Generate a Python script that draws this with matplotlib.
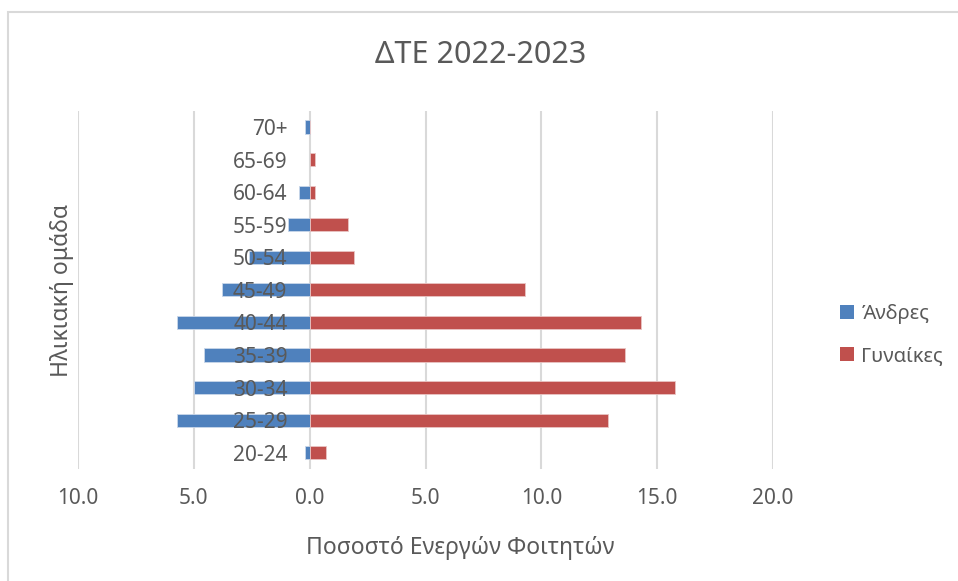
import matplotlib
matplotlib.use("Agg")
import matplotlib.pyplot as plt
from matplotlib.patches import Patch, Rectangle
from matplotlib.ticker import FuncFormatter, MultipleLocator

plt.rcParams['font.family'] = ['Noto Sans', 'DejaVu Sans']

# Data
age_groups = ["20-24", "25-29", "30-34", "35-39", "40-44", "45-49",
              "50-54", "55-59", "60-64", "65-69", "70+"]
men = [0.22, 5.72, 4.98, 4.55, 5.72, 3.8, 2.62, 0.93, 0.47, 0.0, 0.22]
women = [0.69, 12.88, 15.76, 13.6, 14.32, 9.31, 1.92, 1.67, 0.22, 0.22, 0.0]
series_names = ["Άνδρες", "Γυναίκες"]
title = "ΔΤΕ 2022-2023"
xlabel = "Ποσοστό Ενεργών Φοιτητών"
ylabel = "Ηλικιακή ομάδα"

blue = "#4F81BD"
red = "#C0504D"
text_col = "#595959"
grid_col = "#D9D9D9"

W, H = 958, 581
fig = plt.figure(figsize=(W / 100, H / 100), dpi=100)
ax = fig.add_axes([78 / W, 1 - 469 / H, (773 - 78) / W, (469 - 110.7) / H])

ypos = list(range(len(age_groups)))
ax.barh(ypos, [-m for m in men], height=0.4, color=blue,
        edgecolor="#C9D7EA", linewidth=0.6, zorder=1)
ax.barh(ypos, women, height=0.4, color=red,
        edgecolor="#E9C4C3", linewidth=0.6, zorder=1)

ax.set_xlim(-10, 20)
ax.set_ylim(-0.5, len(age_groups) - 0.5)
ax.xaxis.set_major_locator(MultipleLocator(5))
ax.xaxis.set_major_formatter(FuncFormatter(lambda v, p: f"{abs(v):.1f}"))
ax.set_axisbelow(True)
ax.grid(axis="x", color=grid_col, linewidth=1.5)
ax.grid(axis="y", visible=False)

ax.set_yticks(ypos)
ax.set_yticklabels(age_groups)
ax.spines['left'].set_position(('data', 0))
for s in ax.spines.values():
    s.set_visible(False)
ax.yaxis.set_zorder(3)
ax.tick_params(axis="y", length=0, pad=16, labelsize=15, labelcolor=text_col)
ax.tick_params(axis="x", length=0, pad=14, labelsize=15, labelcolor=text_col)

fig.text(460 / W, 1 - 548 / H, xlabel, fontsize=16.5, color=text_col,
         ha="center", va="center")
fig.text(62 / W, 1 - 290 / H, ylabel, rotation=90, fontsize=16.5,
         color=text_col, ha="center", va="center")
fig.text(481 / W, 1 - 55 / H, title, fontsize=22, color=text_col,
         ha="center", va="center")

handles = [Patch(facecolor=blue, edgecolor="none"),
           Patch(facecolor=red, edgecolor="none")]
fig.legend(handles, series_names, loc="center left",
           bbox_to_anchor=(822 / W, 1 - 335 / H), frameon=False,
           fontsize=14.5, labelcolor=text_col, handlelength=0.7,
           handleheight=0.7, handletextpad=0.35, labelspacing=1.1)

# chart area border (left & top visible, cropped at right/bottom)
fig.patches.append(Rectangle((8 / W, -0.1), 1.2, 1.1 - 12 / H + 0.0,
                             transform=fig.transFigure, fill=False,
                             edgecolor="#D9D9D9", linewidth=1.5))

fig.savefig("out.png", dpi=100, facecolor="white")
